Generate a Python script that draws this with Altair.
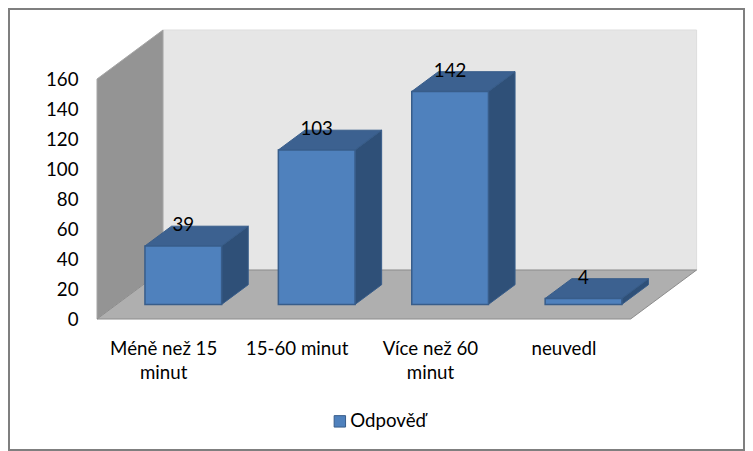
import altair as alt
import pandas as pd

categories = ["Méně než 15\nminut", "15-60 minut", "Více než 60\nminut", "neuvedl"]
values = [39, 103, 142, 4]
series = "Odpověď"
ticks = [0, 20, 40, 60, 80, 100, 120, 140, 160]

# 3D box geometry, in data units (category slots on x, answers on y)
PX_X, PX_Y = 133.4, 1.5            # px per category slot / per answer
ORIGIN_X, ORIGIN_Y = 97 - 8, 319 - 8  # front-left floor corner inside the canvas
W, H = 737, 443
DEPTH_X, DEPTH_Y = 66 / PX_X, 49 / PX_Y   # wall depth
TOP = 160
BAR_W = 76.7 / PX_X
FONT = "Lato"
FS = 18.7


def proj(c, v, d):
    """category position, value, depth (0 front .. 1 back) -> screen-plane data"""
    return c + d * DEPTH_X, v + d * DEPTH_Y


x_scale = alt.Scale(domain=[(0 - ORIGIN_X) / PX_X, (W - ORIGIN_X) / PX_X], nice=False, zero=False)
y_scale = alt.Scale(domain=[(ORIGIN_Y - H) / PX_Y, ORIGIN_Y / PX_Y], nice=False, zero=False)

walls, side_faces, horiz, front = [], [], [], []


def add_vert(rows, group, fill, stroke, c0, c1, d0, d1, v0, v1):
    # face with vertical edges: lower v0, upper v1, from (c0,d0) to (c1,d1)
    for c, d in ((c0, d0), (c1, d1)):
        x, y = proj(c, v0, d)
        _, y2 = proj(c, v1, d)
        rows.append(dict(g=group, fill=fill, stroke=stroke, x=x, y=y, y2=y2))


def add_horiz(group, fill, stroke, c0, c1, d0, d1, v):
    # face lying flat at height v, from depth d0 to d1
    for d in (d0, d1):
        x, y = proj(c0, v, d)
        x2, _ = proj(c1, v, d)
        horiz.append(dict(g=group, fill=fill, stroke=stroke, x=x, x2=x2, y=y))


N = len(values)
add_vert(walls, "a_back", "#E6E6E6", "#DDDDDD", 0, N, 1, 1, 0, TOP)
add_vert(walls, "b_left", "#949494", "#A6A6A6", 0, 0, 0, 1, 0, TOP)
add_horiz("c_floor", "#AFAFAF", "#8C8C8C", 0, N, 0, 1, 0)

BAR_D0, BAR_D1 = 0.297, 0.70
labels = []
for i, v in enumerate(values):
    c0 = i + 0.5 - BAR_W / 2
    c1 = c0 + BAR_W
    add_horiz(f"t{i}", "#3C6190", "#385D8A", c0, c1, BAR_D0, BAR_D1, v)
    add_vert(side_faces, f"s{i}", "#2F5078", "#385D8A", c1, c1, BAR_D0, BAR_D1, 0, v)
    fx0, fy0 = proj(c0, 0, BAR_D0)
    fx1, fy1 = proj(c1, v, BAR_D0)
    front.append(dict(x=fx0, x2=fx1, y=fy0, y2=fy1, series=series))
    lx, _ = proj((c0 + c1) / 2, v, BAR_D0)
    _, ly = proj((c0 + c1) / 2, v, BAR_D1)
    labels.append(dict(x=lx, y=ly + 1 / PX_Y, t=str(v)))

LABEL_Y = -13.8
cat_df = pd.DataFrame(
    dict(
        x=[i + 0.5 for i in range(N)],
        y=[LABEL_Y] * N,
        t=categories,
    )
)

X = alt.X("x:Q", scale=x_scale, axis=None)
Y = alt.Y(
    "y:Q",
    scale=y_scale,
    axis=alt.Axis(
        values=ticks,
        title=None,
        domain=False,
        ticks=False,
        grid=False,
        offset=-(78 - 8),
        labelPadding=0,
        labelFont=FONT,
        labelFontSize=FS,
        labelColor="#000000",
    ),
)


def vertical_faces(rows):
    return (
        alt.Chart(pd.DataFrame(rows))
        .mark_area(orient="vertical", strokeWidth=1)
        .encode(
            x=X,
            y=Y,
            y2="y2:Q",
            detail="g:N",
            fill=alt.Fill("fill:N", scale=None),
            stroke=alt.Stroke("stroke:N", scale=None),
        )
    )


flats = (
    alt.Chart(pd.DataFrame(horiz))
    .mark_area(orient="horizontal", strokeWidth=1)
    .encode(
        x=X,
        x2="x2:Q",
        y=Y,
        detail="g:N",
        fill=alt.Fill("fill:N", scale=None),
        stroke=alt.Stroke("stroke:N", scale=None),
    )
)
fronts = (
    alt.Chart(pd.DataFrame(front))
    .mark_rect(stroke="#385D8A", strokeWidth=1.5)
    .encode(
        x=X,
        x2="x2:Q",
        y=Y,
        y2="y2:Q",
        fill=alt.Fill(
            "series:N",
            scale=alt.Scale(domain=[series], range=["#4F81BD"]),
            legend=alt.Legend(
                title=None,
                orient="none",
                legendX=330.5 - 8,
                legendY=412 - 8,
                symbolType="square",
                symbolSize=130,
                symbolStrokeColor="#385D8A",
                labelFont=FONT,
                labelFontSize=FS,
                labelColor="#000000",
                labelOffset=1,
                symbolStrokeWidth=1,
            ),
        ),
    )
)
value_text = (
    alt.Chart(pd.DataFrame(labels))
    .mark_text(font=FONT, fontSize=FS, color="#000000")
    .encode(x=X, y=Y, text="t:N")
)
cat_text = (
    alt.Chart(cat_df)
    .mark_text(font=FONT, fontSize=FS, color="#000000", lineBreak="\n", lineHeight=24.5, baseline="top")
    .encode(x=X, y=Y, text="t:N")
)

chart = (
    alt.layer(vertical_faces(walls), flats, vertical_faces(side_faces), fronts, value_text, cat_text)
    .properties(width=W, height=H, padding=0, autosize=alt.AutoSizeParams(type="none"))
    .configure_view(stroke="#7F7F7F", strokeWidth=4)
)
chart.save("out.html", embed_options={"renderer": "svg", "actions": False})
